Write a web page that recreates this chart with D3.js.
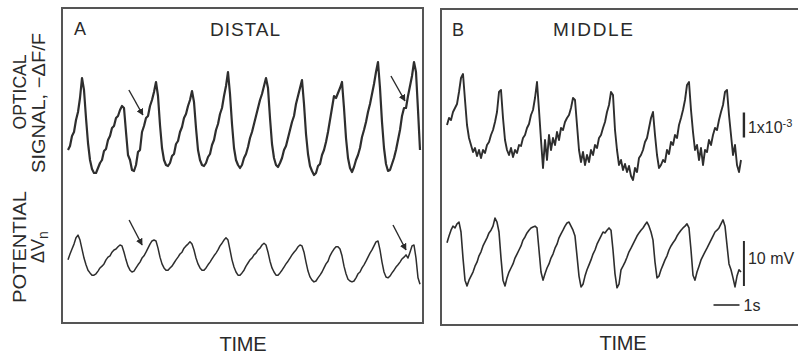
<!DOCTYPE html>
<html>
<head>
<meta charset="utf-8">
<script src="https://cdn.jsdelivr.net/npm/d3@7"></script>
<style>
  body { margin: 0; background: #fff; }
  svg { display: block; }
  text { font-family: "Liberation Sans", Arial, Helvetica, sans-serif; fill: #2a2a2a; }
</style>
</head>
<body>
<div id="fig"></div>
<script>

// Sampling: one point every 1/13 s
var sampleRate = 13;

// Optical signal in units of 1e-5 (-dF/F), potential in mV
var distalOptical = [
  100,116,156,172,220,252,308,388,340,228,128,60,24,8,8,28,
  48,60,96,104,140,156,188,196,228,236,260,276,268,172,80,60,
  20,16,40,92,100,172,196,228,236,276,300,332,372,316,200,108,
  60,40,36,48,76,84,124,136,172,192,228,244,276,300,336,292,
  188,100,60,40,36,48,72,84,120,140,180,204,244,268,316,356,
  412,324,204,108,60,40,28,40,68,84,112,148,172,204,236,268,
  300,324,356,388,348,228,124,68,40,32,48,68,100,116,148,180,
  212,236,284,316,348,380,284,164,84,36,16,0,8,36,44,80,
  100,132,172,220,268,316,308,328,348,372,268,148,68,28,12,32,
  60,80,108,152,180,212,252,284,324,364,412,452,348,212,108,44,
  16,20,44,68,100,140,180,236,268,268,316,356,396,452,412,260,
  100
];

var distalPotential = [
  6.7,8.0,9.1,10.2,11.6,12.2,11.1,9.1,7.1,5.6,4.4,3.8,3.3,3.3,3.6,4.2,
  4.9,5.3,5.8,6.7,7.3,7.6,8.4,8.9,9.1,9.6,10.0,9.8,8.4,6.7,5.3,4.4,
  4.0,4.2,4.9,5.6,6.2,7.1,7.6,8.4,9.3,10.2,10.9,11.1,10.9,9.3,7.3,5.8,
  4.9,4.4,4.4,4.9,5.3,6.0,6.7,7.3,8.0,8.4,9.3,9.8,10.2,10.7,10.2,8.9,
  7.1,5.8,4.9,4.4,4.4,4.9,5.6,6.2,6.9,7.6,8.2,8.9,9.8,10.4,11.1,11.6,
  11.1,8.9,6.7,5.1,4.0,3.3,3.3,3.8,4.4,5.3,6.0,6.7,7.1,7.8,8.2,8.9,
  9.3,10.0,10.4,10.0,8.4,6.4,4.9,4.0,3.3,3.3,3.8,4.4,5.1,5.8,6.4,7.1,
  7.8,8.4,8.9,9.6,10.0,9.8,8.4,6.2,4.2,2.9,2.2,1.8,2.0,2.7,3.3,4.0,
  4.9,5.8,6.4,7.6,8.4,9.1,9.6,9.6,9.1,7.6,5.3,3.6,2.4,2.0,1.8,2.0,
  2.7,3.6,4.0,4.9,5.6,6.4,7.3,8.2,8.9,9.8,10.7,10.9,8.9,6.2,4.0,2.9,
  2.7,3.1,3.8,4.4,5.1,5.6,6.2,6.9,7.3,7.8,7.1,8.4,9.8,10.0,7.1,2.7,
  1.3
];

var middleOptical = [
  220,248,240,272,288,304,352,408,424,320,220,168,140,112,128,96,
  120,88,120,108,140,152,180,200,232,272,352,360,248,160,120,100,
  128,92,120,108,140,136,168,180,208,224,260,280,328,392,280,160,
  48,160,80,180,120,168,140,192,160,208,200,232,248,260,288,328,
  320,220,120,72,112,60,100,72,120,100,140,128,168,180,208,232,
  272,300,352,340,200,120,60,80,40,64,32,56,16,0,48,32,
  88,100,120,152,168,208,248,272,180,100,48,60,80,72,120,104,
  152,140,180,168,220,248,280,320,380,392,280,192,120,140,80,128,
  60,120,112,160,140,180,208,200,240,272,300,352,360,260,180,100,
  140,60,32,80
];

var middlePotential = [
  11.6,13.1,14.4,15.3,14.9,15.8,16.2,14.0,8.2,3.3,2.0,3.3,4.2,5.1,6.4,7.3,
  8.7,9.6,10.9,11.8,12.7,13.8,14.4,15.3,17.1,16.2,14.0,8.2,3.3,2.0,3.8,5.1,
  6.0,6.9,8.2,9.1,10.0,10.9,12.2,12.9,13.8,14.4,14.9,15.1,15.3,14.9,10.0,5.1,
  3.3,4.7,6.0,6.9,8.2,9.1,10.4,11.3,12.7,13.6,14.4,15.3,16.0,16.2,15.3,14.4,
  13.1,8.7,4.2,1.8,2.4,4.2,5.6,6.7,7.8,9.1,10.0,11.3,12.2,13.1,14.0,13.8,
  14.4,14.9,14.4,10.0,4.7,1.6,2.4,5.6,6.4,7.3,8.4,9.6,10.4,11.3,12.2,13.1,
  13.8,14.4,14.9,15.6,16.2,15.3,14.0,12.2,7.3,3.8,4.2,5.6,6.7,7.8,8.7,10.0,
  10.9,11.6,12.2,13.1,13.8,14.4,14.9,15.3,15.8,14.9,10.0,4.4,3.3,5.1,6.4,7.8,
  8.7,9.6,10.4,11.3,12.2,13.1,14.0,14.4,14.9,15.8,16.7,15.3,11.1,6.9,5.6,3.8,
  1.8,4.2,5.6,5.1
];

// Arrows on the distal traces: [time s, value]
var opticalArrows = [[2.88, 240], [12.96, 296]];
var potentialArrows = [[2.85, 10.0], [13.0, 8.9]];

// Scale bars
var opticalBar = [170, 270];   // 1x10^-3 = 100 units
var potentialBar = [2, 12];    // 10 mV
var timeBar = [10.25, 11.25];  // 1 s
var barTime = 11.42;

/*
 * SCALES
 * =============================== */

var W = 798, H = 357;
var pxPerSec = 26;

var xA = d3.scaleLinear().domain([0, 13.5]).range([68, 68 + 13.5*pxPerSec]);
var xB = d3.scaleLinear().domain([0, 11.5]).range([447, 447 + 11.5*pxPerSec]);

var yOptA = d3.scaleLinear().domain([0, 100]).range([175, 150]);
var yPotA = d3.scaleLinear().domain([0, 10]).range([290, 245]);
var yOptB = d3.scaleLinear().domain([0, 100]).range([180, 155]);
var yPotB = d3.scaleLinear().domain([0, 10]).range([295, 250]);

var svg = d3.select("#fig").append("svg")
  .attr("width", W)
  .attr("height", H);

svg.append("defs").append("marker")
  .attr("id", "head")
  .attr("viewBox", "0 0 10 10")
  .attr("refX", 9).attr("refY", 5)
  .attr("markerWidth", 7).attr("markerHeight", 7)
  .attr("markerUnits", "userSpaceOnUse")
  .attr("orient", "auto")
  .append("path")
  .attr("d", "M0,0 L10,5 L0,10 Z")
  .style("fill", "#2a2a2a");

/*
 * FRAMES + LABELS
 * =============================== */

svg.append("rect")
  .attr("x", 62).attr("y", 8)
  .attr("width", 361).attr("height", 315)
  .style("fill", "none").style("stroke", "#555").style("stroke-width", 2);

svg.append("rect")
  .attr("x", 441).attr("y", 9)
  .attr("width", 400).attr("height", 316)
  .style("fill", "none").style("stroke", "#555").style("stroke-width", 2);

var label = function(x, y, txt, size, len, anchor) {
  var t = svg.append("text")
    .attr("x", x).attr("y", y)
    .style("font-size", size + "px")
    .attr("text-anchor", anchor || "start")
    .text(txt);
  if (len) t.attr("textLength", len).attr("lengthAdjust", "spacing");
  return t;
};

label(74, 35, "A", 18);
label(245, 36, "DISTAL", 19, 70, "middle");
label(452, 36, "B", 18);
label(593, 36, "MIDDLE", 19, 80, "middle");
label(243, 351, "TIME", 20, 47, "middle");
label(623, 350, "TIME", 20, 47, "middle");

var vlabel = function(x, y, txt, len) {
  return svg.append("text")
    .attr("transform", "translate(" + x + "," + y + ") rotate(-90)")
    .attr("text-anchor", "middle")
    .style("font-size", "18px")
    .attr("textLength", len).attr("lengthAdjust", "spacingAndGlyphs")
    .text(txt);
};

vlabel(26, 92, "OPTICAL", 75);
vlabel(45, 103, "SIGNAL, \u2212\u0394F/F", 140);
vlabel(26, 247, "POTENTIAL", 112);

var dv = svg.append("text")
  .attr("transform", "translate(44,247) rotate(-90)")
  .attr("text-anchor", "middle")
  .style("font-size", "18px");
dv.append("tspan").text("\u0394V");
dv.append("tspan").attr("dy", 4).style("font-size", "14px").text("n");

/*
 * TRACES
 * =============================== */

var trace = function(data, x, y, width) {
  var line = d3.line()
    .x(function(d, i) { return x(i / sampleRate); })
    .y(function(d) { return y(d); });
  svg.append("path")
    .datum(data)
    .attr("d", line)
    .style("fill", "none")
    .style("stroke", "#2e2e2e")
    .style("stroke-width", width)
    .style("stroke-linejoin", "round");
};

trace(distalOptical, xA, yOptA, 2.2);
trace(distalPotential, xA, yPotA, 1.5);
trace(middleOptical, xB, yOptB, 1.9);
trace(middlePotential, xB, yPotB, 1.6);

var arrows = function(data, x, y, dx, dy) {
  svg.selectAll(null)
    .data(data)
    .enter().append("line")
    .attr("x1", function(d) { return x(d[0]) + dx; })
    .attr("y1", function(d) { return y(d[1]) + dy; })
    .attr("x2", function(d) { return x(d[0]); })
    .attr("y2", function(d) { return y(d[1]); })
    .style("stroke", "#2a2a2a")
    .style("stroke-width", 1.4)
    .attr("marker-end", "url(#head)");
};

arrows(opticalArrows, xA, yOptA, -14, -25);
arrows(potentialArrows, xA, yPotA, -13, -25);

/*
 * SCALE BARS
 * =============================== */

svg.append("line")
  .attr("x1", xB(barTime)).attr("x2", xB(barTime))
  .attr("y1", yOptB(opticalBar[0])).attr("y2", yOptB(opticalBar[1]))
  .style("stroke", "#2a2a2a").style("stroke-width", 2.4);

svg.append("line")
  .attr("x1", xB(barTime)).attr("x2", xB(barTime))
  .attr("y1", yPotB(potentialBar[0])).attr("y2", yPotB(potentialBar[1]))
  .style("stroke", "#2a2a2a").style("stroke-width", 2);

svg.append("line")
  .attr("x1", xB(timeBar[0])).attr("x2", xB(timeBar[1]))
  .attr("y1", 305).attr("y2", 305)
  .style("stroke", "#2a2a2a").style("stroke-width", 1.6);

var sc = svg.append("text")
  .attr("x", xB(barTime) + 4).attr("y", 133)
  .style("font-size", "16px");
sc.append("tspan").text("1x10");
sc.append("tspan").attr("dy", -6).style("font-size", "11px").text("-3");

label(xB(barTime) + 4, 264, "10 mV", 16);
label(xB(timeBar[1]) + 4, 311, "1s", 16);

</script>
</body>
</html>
